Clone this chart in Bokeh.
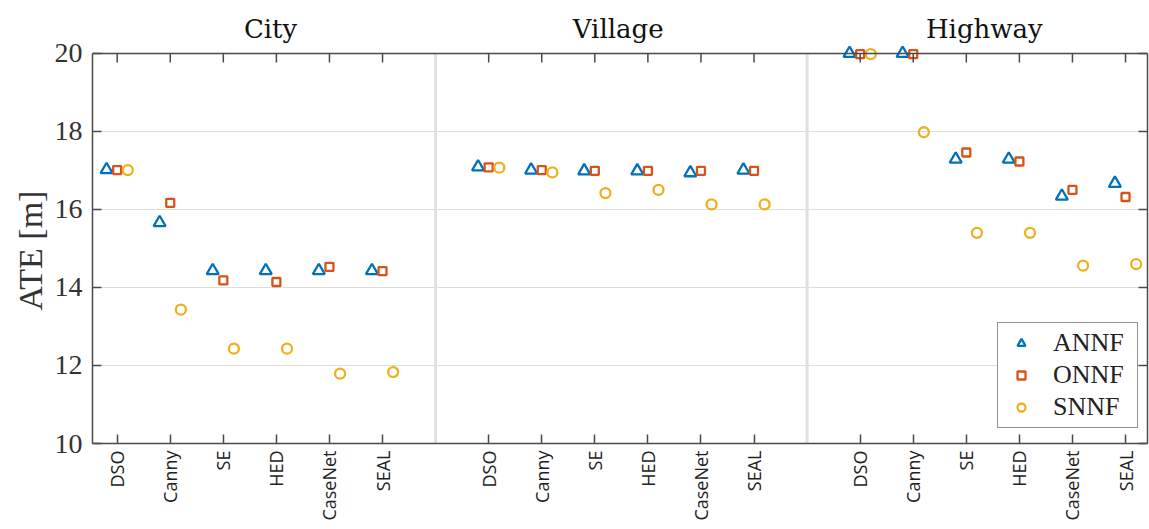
import math
from bokeh.plotting import figure
from bokeh.models import (FixedTicker, LinearAxis, Range1d, Span, Legend,
                          LegendItem, ColumnDataSource, Title)
from bokeh.core.properties import value
from bokeh.embed import file_html
from bokeh.resources import INLINE

# ---------------- data ----------------
methods = ["DSO", "Canny", "SE", "HED", "CaseNet", "SEAL"]
scenes = ["City", "Village", "Highway"]
series_names = ["ANNF", "ONNF", "SNNF"]

annf_city = [17.02, 15.66, 14.43, 14.43, 14.43, 14.43]
onnf_city = [17.01, 16.17, 14.18, 14.14, 14.53, 14.42]
snnf_city = [17.01, 13.43, 12.43, 12.43, 11.79, 11.83]

annf_village = [17.09, 17.01, 16.99, 16.99, 16.94, 17.01]
onnf_village = [17.08, 17.01, 16.99, 16.99, 16.99, 16.99]
snnf_village = [17.07, 16.95, 16.42, 16.50, 16.13, 16.13]

annf_highway = [20.00, 20.00, 17.29, 17.29, 16.34, 16.67]
onnf_highway = [19.98, 19.98, 17.46, 17.23, 16.50, 16.32]
snnf_highway = [19.98, 17.98, 15.40, 15.40, 14.56, 14.60]

y_ticks = [10, 12, 14, 16, 18, 20]

# ---------------- styling ----------------
colors = {"ANNF": "#0072BD", "ONNF": "#D95319", "SNNF": "#EDB120"}
markers = {"ANNF": "triangle", "ONNF": "square", "SNNF": "circle"}
sizes = {"ANNF": 12, "ONNF": 8, "SNNF": 10}
offsets = {"ANNF": -0.2, "ONNF": 0.0, "SNNF": 0.2}
AX = "#4a4a4a"

X0, X1 = 0.535, 20.414
Y0, Y1 = 10, 21.357

p = figure(width=1149, height=529, output_backend="svg", toolbar_location=None,
           x_range=Range1d(X0, X1), y_range=Range1d(Y0, Y1),
           min_border_left=92, min_border_right=2, min_border_top=0,
           min_border_bottom=86)
p.outline_line_color = None
p.background_fill_color = "white"
p.border_fill_color = "white"

# tick positions
x_ticks = []
x_labels = {}
for si in range(len(scenes)):
    for mi, m in enumerate(methods):
        xv = si * 7 + mi + 1
        x_ticks.append(xv)
        x_labels[xv] = m
separators = [7, 14]

# grid
p.xgrid.visible = False
p.ygrid.ticker = FixedTicker(ticks=[12, 14, 16, 18])
p.ygrid.grid_line_color = "#dedede"
p.ygrid.grid_line_width = 1.2

p.segment(x0=separators, y0=[Y0] * 2, x1=separators, y1=[20] * 2,
          line_color="#e0e0e0", line_width=3)

# data
data = {
    "ANNF": [annf_city, annf_village, annf_highway],
    "ONNF": [onnf_city, onnf_village, onnf_highway],
    "SNNF": [snnf_city, snnf_village, snnf_highway],
}
renderers = {}
for s in series_names:
    xs, ys = [], []
    for si in range(len(scenes)):
        for mi in range(len(methods)):
            xs.append(si * 7 + mi + 1 + offsets[s])
            ys.append(data[s][si][mi])
    src = ColumnDataSource(dict(x=xs, y=ys))
    renderers[s] = p.scatter("x", "y", source=src, marker=markers[s], size=sizes[s],
                             line_color=colors[s], fill_color=None, line_width=2.3)

# axes
yax = p.yaxis[0]
yax.ticker = FixedTicker(ticks=y_ticks)
yax.bounds = (10, 20)
yax.major_tick_in = 9
yax.major_tick_out = 0
yax.minor_tick_line_color = None
yax.axis_line_color = AX
yax.axis_line_width = 1.5
yax.major_tick_line_color = AX
yax.major_tick_line_width = 1.5
yax.major_label_text_font = "Liberation Serif"
yax.major_label_text_font_size = "28px"
yax.major_label_text_color = "#333333"
yax.major_label_standoff = 10

# y axis title, aligned to the lower part of the frame like the reference
ytitle = Title(text="ATE [m]", align="left", offset=133, standoff=6,
               text_font="Liberation Serif", text_font_size="34px",
               text_font_style="normal", text_color="#333333")
p.add_layout(ytitle, "left")

xax = p.xaxis[0]
xax.ticker = FixedTicker(ticks=x_ticks)
xax.major_label_overrides = x_labels
xax.major_label_orientation = math.pi / 2
xax.major_tick_in = 9
xax.major_tick_out = 0
xax.minor_tick_line_color = None
xax.axis_line_color = AX
xax.axis_line_width = 1.5
xax.major_tick_line_color = AX
xax.major_tick_line_width = 1.5
xax.major_label_text_font = "Open Sans"
xax.major_label_text_font_size = "18px"
xax.major_label_text_color = "#222222"
xax.major_label_standoff = 7

rax = LinearAxis(ticker=FixedTicker(ticks=y_ticks), bounds=(10, 20),
                 major_tick_in=9, major_tick_out=0, minor_tick_line_color=None,
                 axis_line_color=AX, axis_line_width=1.5,
                 major_tick_line_color=AX, major_tick_line_width=1.5,
                 major_label_text_font_size="0px", major_label_text_color=None,
                 major_label_standoff=0)
p.add_layout(rax, "right")

# top spine and top ticks
p.add_layout(Span(location=20, dimension="width", line_color=AX, line_width=1.5))
p.segment(x0=x_ticks, y0=[20] * len(x_ticks), x1=x_ticks,
          y1=[20 - 0.23] * len(x_ticks), line_color=AX, line_width=1.5)

# scene titles
title_x = [3.89, 10.44, 17.34]
title_y = [20.615] * 3
p.text(x=title_x, y=title_y, text=scenes, text_align="center",
       text_baseline="alphabetic", text_font=value("DejaVu Serif"),
       text_font_size="26px", text_color="#111111")

# legend
legend = Legend(items=[LegendItem(label=s, renderers=[renderers[s]]) for s in series_names],
                location=(905, 15))
legend.padding = 5
legend.spacing = 2
legend.glyph_height = 20
legend.glyph_width = 36
legend.label_height = 20
legend.label_width = 79
legend.label_standoff = 14
legend.label_text_font = "Liberation Serif"
legend.label_text_font_size = "26px"
legend.label_text_color = "#222222"
legend.border_line_color = "#262626"
legend.border_line_width = 1.2
legend.background_fill_color = "white"
legend.background_fill_alpha = 1.0
p.add_layout(legend, "center")

open("out.html", "w").write(file_html(p, INLINE))
